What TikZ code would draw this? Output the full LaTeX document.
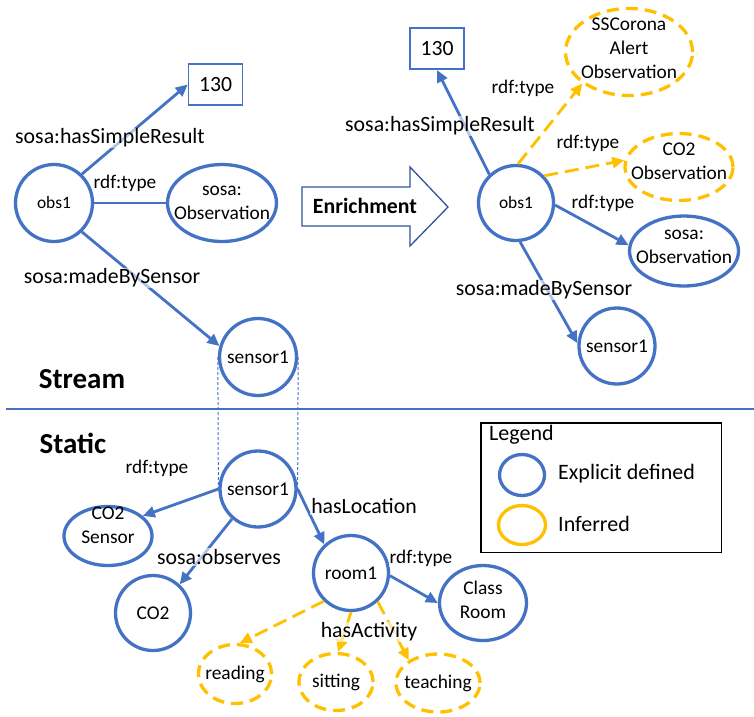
\documentclass[tikz,border=0pt]{standalone}
\usepackage{fontspec}
\setmainfont{Carlito}
\usetikzlibrary{arrows.meta,shapes.geometric}
\definecolor{nodeblue}{HTML}{4472C4}
\definecolor{infgold}{HTML}{FFC000}
\definecolor{arrowblue}{HTML}{2F5597}

\begin{document}
\begin{tikzpicture}[x=1pt,y=-1pt,
  nodetxt/.style={font=\fontsize{19.4}{24}\selectfont, align=center, inner sep=0pt},
  obstxt/.style={font=\fontsize{17.4}{21}\selectfont, inner sep=0pt},
  explicit/.style={draw=nodeblue, line width=3.3pt, inner sep=0pt},
  inferred/.style={draw=infgold, line width=3.3pt, inner sep=0pt, dash pattern=on 12pt off 7pt},
  circ/.style={circle, minimum size=#1},
  ell/.style 2 args={ellipse, minimum width=#1, minimum height=#2},
  valbox/.style={draw=nodeblue, line width=1.6pt, rectangle, inner sep=0pt,
    minimum width=54pt, minimum height=41.5pt, font=\fontsize{21.7}{26}\selectfont},
  rel/.style={draw=nodeblue, line width=2.8pt, -{Triangle[length=12pt,width=11pt]}},
  link/.style={draw=nodeblue, line width=2.8pt},
  relinf/.style={draw=infgold, line width=2.8pt, dash pattern=on 14pt off 7pt,
    -{Triangle[length=12pt,width=11pt]}},
  guide/.style={draw=nodeblue, line width=1pt, dash pattern=on 3pt off 2pt},
  lbl/.style={font=\fontsize{21.8}{26}\selectfont, fill=white, fill opacity=0.6,
    text opacity=1, inner sep=1pt},
  typelbl/.style={lbl, font=\fontsize{19.3}{23}\selectfont},
  heading/.style={font=\fontsize{29}{34}\selectfont\bfseries},
  legtxt/.style={font=\fontsize{22}{26}\selectfont, inner sep=0pt, anchor=west},
]
\path[fill=white, use as bounding box] (0,0) rectangle (754,716);

% ---------- stream graph ----------
\node[explicit, circ=77pt, label={[obstxt]center:obs1}] (obs1L) at (54,203) {};
\node[valbox] (valL) at (215.5,84.5) {130};
\node[explicit, ell={109pt}{77pt}, label={[nodetxt]center:{sosa:\\Observation}}] (typeL) at (222,203) {};
\node[explicit, circ=77pt, label={[nodetxt]center:sensor1}] (sensorS) at (258,357) {};

% ---------- enriched graph ----------
\node[explicit, circ=75pt, label={[obstxt]center:obs1}] (obs1R) at (516,203) {};
\node[valbox] (valR) at (437,48.5) {130};
\node[inferred, ell={127pt}{87pt}, label={[nodetxt,yshift=4pt]center:{SSCorona\\Alert\\Observation}}] (alert) at (629,52) {};
\node[inferred, ell={108pt}{67pt}, label={[nodetxt,yshift=6pt]center:{CO2\\Observation}}] (co2obs) at (679,167) {};
\node[explicit, ell={109pt}{70pt}, label={[nodetxt,yshift=4pt]center:{sosa:\\Observation}}] (typeR) at (684,251) {};
\node[explicit, circ=76pt, label={[nodetxt]center:sensor1}] (sensorR) at (617,346) {};

% ---------- static graph ----------
\node[explicit, circ=76pt, label={[nodetxt]center:sensor1}] (sensorT) at (258,489) {};
\node[explicit, ell={88pt}{59pt}, label={[nodetxt,yshift=11pt]center:{CO2\\Sensor}}] (co2sensor) at (108,536) {};
\node[explicit, circ=75pt, label={[nodetxt]center:CO2}] (co2) at (153,613) {};
\node[explicit, circ=75pt, label={[nodetxt]center:room1}] (room1) at (351,573) {};
\node[explicit, ell={87pt}{75pt}, label={[nodetxt,yshift=3pt]center:{Class\\Room}}] (classroom) at (483,603) {};
\node[inferred, ell={73pt}{59pt}, label={[nodetxt]center:reading}] (reading) at (235,674) {};
\node[inferred, ell={74pt}{57pt}, label={[nodetxt]center:sitting}] (sitting) at (336,682) {};
\node[inferred, ell={84pt}{58pt}, label={[nodetxt]center:teaching}] (teaching) at (438,683) {};

% ---------- connectors ----------
\draw[rel] (obs1L.46) -- (valL.west);
\draw[link] (obs1L.east) -- (typeL.west);
\draw[rel] (obs1L.-46) -- (sensorS.164);

\draw[rel] (obs1R.133) -- (valR.south);
\draw[relinf] (obs1R.87) -- (alert.214);
\draw[relinf] (obs1R.44) -- (co2obs.173);
\draw[rel] (obs1R.-3) -- (typeR.174);
\draw[rel] (obs1R.-84) -- (sensorR.176);

\draw[rel] (sensorT.180) -- (co2sensor.30);
\draw[rel] (sensorT.229) -- (co2.47);
\draw[rel] (sensorT.0) -- (room1.133);
\draw[rel] (room1.-4) -- (classroom.180);
\draw[relinf] (room1.226) -- (reading.81);
\draw[relinf] (room1.270) -- (sitting.86);
\draw[relinf] (room1.313) -- (teaching.142);

% the same sensor seen in both layers
\draw[guide] (sensorS.west) -- (sensorT.west);
\draw[guide] (sensorS.east) -- (sensorT.east);

% ---------- edge labels ----------
\node[lbl] (lResL) at (110,138) {sosa:hasSimpleResult};
\node[typelbl] (lTypeL) at (125,183) {rdf:type};
\node[lbl] (lMadeL) at (112,278) {sosa:madeBySensor};
\node[typelbl] (lTypeR1) at (523,88) {rdf:type};
\node[lbl] (lResR) at (440,126) {sosa:hasSimpleResult};
\node[typelbl] (lTypeR2) at (588,143) {rdf:type};
\node[typelbl] (lTypeR3) at (603,203) {rdf:type};
\node[lbl] (lMadeR) at (544,290) {sosa:madeBySensor};
\node[typelbl] (lTypeS) at (157,468) {rdf:type};
\node[lbl] (lObs) at (219,557) {sosa:observes};
\node[lbl] (lLoc) at (364,506) {hasLocation};
\node[typelbl] (lTypeRoom) at (421,558) {rdf:type};
\node[lbl] (lAct) at (369,632) {hasActivity};

% ---------- enrichment arrow ----------
\draw[arrowblue, line width=1.3pt, fill=white, line join=miter]
  (302,187) -- (410,187) -- (410,167) -- (448,207) -- (410,246) -- (410,226) -- (302,226) -- cycle;
\node[font=\fontsize{21.8}{26}\selectfont\bfseries] (enrich) at (365,206) {Enrichment};

% ---------- layer separator and headings ----------
\coordinate (sepL) at (6,409);
\coordinate (sepR) at (754,409);
\draw[nodeblue, line width=1.5pt] (sepL) -- (sepR);
\node[heading] (stream) at (82,379) {Stream};
\node[heading] (static) at (73,443) {Static};

% ---------- legend ----------
\node[draw=black, line width=1.5pt, rectangle, inner sep=0pt,
      minimum width=240.5pt, minimum height=129.5pt] (legend) at (601,487.5) {};
\node[legtxt] (legtitle) at (489,435) {Legend};
\node[explicit, ell={45pt}{41pt}] (legexp) at (522,475) {};
\node[draw=infgold, line width=3.3pt, inner sep=0pt, ell={47pt}{39pt}] (leginf) at (522,525) {};
\node[legtxt] (legexptxt) at (558,474) {Explicit defined};
\node[legtxt] (leginftxt) at (558,524) {Inferred};
\end{tikzpicture}
\end{document}
